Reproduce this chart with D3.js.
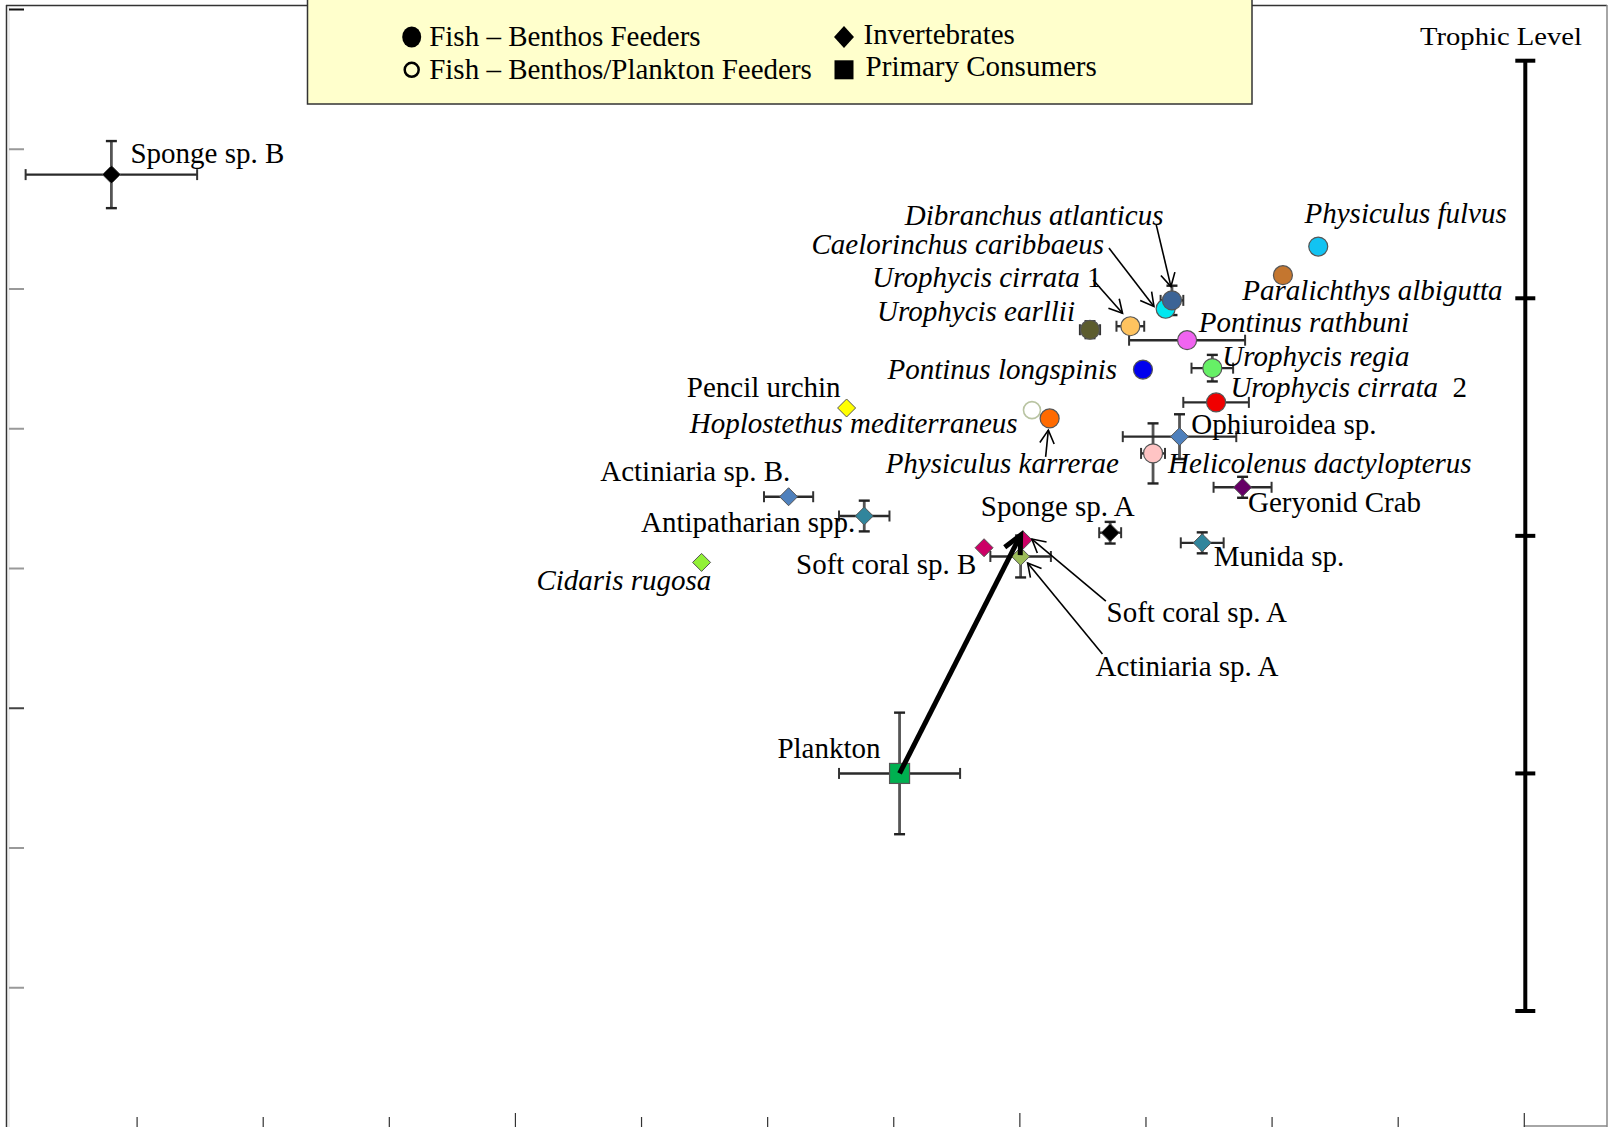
<!DOCTYPE html>
<html><head><meta charset="utf-8">
<script src="https://cdn.jsdelivr.net/npm/d3@7"></script>
<style>
html,body{margin:0;padding:0;background:#fff;}
svg{display:block;}
text{font-family:"Liberation Serif","Times New Roman",serif;fill:#000;}
</style></head><body><svg id="chart" width="1610" height="1127"></svg>
<script>
// ---------------- data ----------------
const species = ["Sponge sp. B","Caelorinchus caribbaeus","Dibranchus atlanticus","Urophycis cirrata 1","Urophycis earllii",
  "Pontinus rathbuni","Physiculus fulvus","Paralichthys albigutta","Urophycis regia","Pontinus longspinis",
  "Urophycis cirrata 2","Hoplostethus mediterraneus","Physiculus karrerae","Pencil urchin","Helicolenus dactylopterus",
  "Ophiuroidea sp.","Geryonid Crab","Actiniaria sp. B.","Antipatharian spp.","Sponge sp. A",
  "Munida sp.","Cidaris rugosa","Soft coral sp. B","Actiniaria sp. A","Soft coral sp. A","Plankton"];
const groups = ["inv","fishB","fishB","fishB","fishB",
  "fishB","fishB","fishB","fishB","fishB",
  "fishB","fishBP","fishB","inv","fishB",
  "inv","inv","inv","inv","inv",
  "inv","inv","inv","inv","inv","prim"];
const d13C = [-24.20,-15.84,-15.79,-16.12,-16.44,
  -15.67,-14.63,-14.91,-15.47,-16.02,
  -15.44,-16.90,-16.76,-18.37,-15.94,
  -15.73,-15.23,-18.83,-18.23,-16.28,
  -15.55,-19.52,-17.28,-16.99,-16.97,-17.95];
const d15N = [13.63,11.71,11.83,11.46,11.41,
  11.26,12.60,12.19,10.86,10.84,
  10.37,10.26,10.14,10.29,9.64,
  9.88,9.155,9.02,8.744,8.505,
  8.36,8.08,8.29,8.165,8.40,5.06];
const sdC = [0.68,0,0.09,0.11,0.08,
  0.46,0,0,0.165,0,
  0.26,0,0,0,0.095,
  0.45,0.23,0.195,0.20,0.087,
  0.17,0,0,0.24,0,0.48];
const sdN = [0.48,0,0.21,0,0.12,
  0,0,0,0.19,0,
  0,0,0,0,0.43,
  0.32,0.15,0,0.22,0.155,
  0.15,0,0,0.30,0,0.87];
const xTickValues = [-24,-23,-22,-21,-20,-19,-18,-17,-16,-15,-14,-13];
const yTickValues = [2,4,6,8,10,12,14,16];
const trophicLevels = [1.66,5.06,8.46,11.86,15.26];
const trophicLabel = "Trophic Level";
const webArrowFrom = [-17.95,5.06];
const webArrowTo = [-16.99,8.47];
const legendNames = ["Fish \u2013 Benthos Feeders","Fish \u2013 Benthos/Plankton Feeders","Invertebrates","Primary Consumers"];
const legendGroups = ["fishB","fishBP","inv","prim"];
const italicNames = new Set(["Caelorinchus caribbaeus","Dibranchus atlanticus","Urophycis cirrata 1","Urophycis earllii",
  "Pontinus rathbuni","Physiculus fulvus","Paralichthys albigutta","Urophycis regia","Pontinus longspinis",
  "Urophycis cirrata 2","Hoplostethus mediterraneus","Physiculus karrerae","Helicolenus dactylopterus","Cidaris rugosa"]);

// ---------------- styles ----------------
const fills = ["#000000","#00E8F0","#3C6496","#FFC35F","#5C5C2E",
  "#F064F0","#12C3F2","#C4762F","#66F066","#0000EE",
  "#F00000","#FFFFFF","#FF6A00","#FFFF00","#FFC4C4",
  "#4F81BD","#660066","#4F81BD","#31859C","#000000",
  "#31859C","#92F036","#CC0066","#9BBB59","#CC0066","#00B050"];
// label placement relative to the marker (pixels)
const labelLayout = {
  "Sponge sp. B":[ "start",19,-11.5],
  "Caelorinchus caribbaeus":["end",-61.7,-55],
  "Dibranchus atlanticus":["end",-8.5,-75.5],
  "Urophycis cirrata 1":["end",-28.8,-39],
  "Urophycis earllii":["end",-15,-9],
  "Pontinus rathbuni":["start",11.6,-8],
  "Physiculus fulvus":["start",-13.7,-24],
  "Paralichthys albigutta":["start",-40.6,24.3],
  "Urophycis regia":["start",10,-2],
  "Pontinus longspinis":["end",-25.8,9.5],
  "Urophycis cirrata 2":["start",14.3,-5],
  "Hoplostethus mediterraneus":["end",-14.4,22.7],
  "Physiculus karrerae":["end",69.3,54.4],
  "Pencil urchin":["end",-6,-11],
  "Helicolenus dactylopterus":["start",15,19.5],
  "Ophiuroidea sp.":["start",11.7,-3],
  "Geryonid Crab":["start",5.4,25],
  "Actiniaria sp. B.":["end",1.7,-16],
  "Antipatharian spp.":["end",-9,15.7],
  "Sponge sp. A":["start",-129.4,-17],
  "Munida sp.":["start",11.6,23],
  "Cidaris rugosa":["end",9.7,28],
  "Soft coral sp. B":["end",-7.6,26],
  "Actiniaria sp. A":["start",75,119.5],
  "Soft coral sp. A":["start",83.4,81.5],
  "Plankton":["end",-19,-15.5]
};
// leader arrows: [tailDx, tailDy, tipDx, tipDy] relative to marker
const leaders = {
  "Dibranchus atlanticus":[-15.7,-75.5,-1,-13.8],
  "Caelorinchus caribbaeus":[-56.7,-60.7,-11.7,-2.3],
  "Urophycis cirrata 1":[-37.2,-46.2,-7.8,-12.9],
  "Physiculus karrerae":[-4,38.4,-1.3,11.7],
  "Soft coral sp. A":[82.7,61,8.7,-1],
  "Actiniaria sp. A":[81.8,97.5,7,6.5]
};

// ---------------- chart ----------------
const svg = d3.select("#chart");
const W = 1610, H = 1127;
const x = d3.scaleLinear().domain([-24,-13]).range([136.6,1523.8]);
const y = d3.scaleLinear().domain([0,16]).range([1127,9]);

// frame
svg.append("line").attr("x1",6.5).attr("x2",6.5).attr("y1",5).attr("y2",H).attr("stroke","#333").attr("stroke-width",1.5);
svg.append("line").attr("x1",9).attr("x2",9).attr("y1",7).attr("y2",H).attr("stroke","#eee").attr("stroke-width",2);
svg.append("line").attr("x1",6).attr("x2",1607).attr("y1",5.5).attr("y2",5.5).attr("stroke","#333").attr("stroke-width",1.5);
svg.append("line").attr("x1",1607).attr("x2",1607).attr("y1",5).attr("y2",H).attr("stroke","#888").attr("stroke-width",1.5);
svg.append("line").attr("x1",x(-13)).attr("x2",1607).attr("y1",1126).attr("y2",1126).attr("stroke","#888").attr("stroke-width",1.5);

// axes (ticks only, no labels)
const yAxis = d3.axisRight(y).tickValues(yTickValues).tickSize(15).tickFormat("");
const gy = svg.append("g").attr("transform","translate(9,0)").call(yAxis);
gy.select(".domain").remove();
gy.selectAll(".tick line").attr("stroke",d=>d===16?"#111":(d===6?"#444":"#999")).attr("stroke-width",2);

const xAxis = d3.axisTop(x).tickValues(xTickValues).tickSize(10).tickFormat("");
const gx = svg.append("g").attr("transform",`translate(0,${H})`).call(xAxis);
gx.select(".domain").remove();
gx.selectAll(".tick line").attr("stroke","#333").attr("stroke-width",1.2)
  .attr("y2",d=>((d+21)%4===0)?-14:-10);

// trophic level bar
const tlx = x(-13)+1.5;
svg.append("line").attr("x1",tlx).attr("x2",tlx).attr("y1",y(d3.max(trophicLevels))).attr("y2",y(d3.min(trophicLevels)))
  .attr("stroke","#000").attr("stroke-width",4);
svg.selectAll(".tl").data(trophicLevels).enter().append("line")
  .attr("x1",tlx-10).attr("x2",tlx+10).attr("y1",d=>y(d)).attr("y2",d=>y(d))
  .attr("stroke","#000").attr("stroke-width",4);
svg.append("text").attr("x",1420).attr("y",45).attr("font-size",25)
  .attr("textLength",162).attr("lengthAdjust","spacingAndGlyphs").text(trophicLabel);

// data rows
const rows = species.map((s,i)=>({name:s,group:groups[i],cx:x(d13C[i]),cy:y(d15N[i]),
  sx:sdC[i],sy:sdN[i],fill:fills[i],c:d13C[i],n:d15N[i]}));

// error bars
const cap = 5.5;
const eb = svg.append("g");
rows.forEach(r=>{
  if(r.sx>0){
    const x1=x(r.c-r.sx), x2=x(r.c+r.sx);
    eb.append("line").attr("x1",x1).attr("x2",x2).attr("y1",r.cy).attr("y2",r.cy).attr("stroke","#2a2a2a").attr("stroke-width",2.4);
    [x1,x2].forEach(xx=>eb.append("line").attr("x1",xx).attr("x2",xx).attr("y1",r.cy-cap).attr("y2",r.cy+cap).attr("stroke","#333").attr("stroke-width",2));
  }
  if(r.sy>0){
    const y1=y(r.n+r.sy), y2=y(r.n-r.sy);
    eb.append("line").attr("x1",r.cx).attr("x2",r.cx).attr("y1",y1).attr("y2",y2).attr("stroke","#555").attr("stroke-width",2.8);
    [y1,y2].forEach(yy=>eb.append("line").attr("x1",r.cx-cap).attr("x2",r.cx+cap).attr("y1",yy).attr("y2",yy).attr("stroke","#222").attr("stroke-width",2.4));
  }
});

// markers
function drawMarker(g,group,cx,cy,fill){
  if(group==="fishB"){
    g.append("circle").attr("cx",cx).attr("cy",cy).attr("r",9.5).attr("fill",fill).attr("stroke","#555").attr("stroke-width",1.2);
  } else if(group==="fishBP"){
    g.append("circle").attr("cx",cx).attr("cy",cy).attr("r",8.5).attr("fill",fill).attr("stroke","#B9C4A2").attr("stroke-width",1.6);
  } else if(group==="inv"){
    const h=9;
    g.append("path").attr("d",`M${cx},${cy-h}L${cx+h},${cy}L${cx},${cy+h}L${cx-h},${cy}Z`).attr("fill",fill).attr("stroke","#555").attr("stroke-width",1);
  } else {
    const h=10;
    g.append("rect").attr("x",cx-h).attr("y",cy-h).attr("width",2*h).attr("height",2*h).attr("fill",fill).attr("stroke","#555").attr("stroke-width",1.2);
  }
}
const mk = svg.append("g");
rows.forEach(r=>drawMarker(mk,r.group,r.cx,r.cy,r.fill));

// arrows
function arrow(g,x1,y1,x2,y2,w,len,ang){
  g.append("line").attr("x1",x1).attr("y1",y1).attr("x2",x2).attr("y2",y2).attr("stroke","#000").attr("stroke-width",w);
  const a=Math.atan2(y1-y2,x1-x2);
  const p1=[x2+len*Math.cos(a+ang),y2+len*Math.sin(a+ang)], p2=[x2+len*Math.cos(a-ang),y2+len*Math.sin(a-ang)];
  g.append("path").attr("d",`M${p1[0]},${p1[1]}L${x2},${y2}L${p2[0]},${p2[1]}`).attr("fill","none").attr("stroke","#000").attr("stroke-width",w).attr("stroke-linejoin","miter");
}
const ag = svg.append("g");
arrow(ag,x(webArrowFrom[0]),y(webArrowFrom[1]),x(webArrowTo[0]),y(webArrowTo[1]),5,20,0.45);
rows.forEach(r=>{
  const L=leaders[r.name]; if(!L) return;
  arrow(ag,r.cx+L[0],r.cy+L[1],r.cx+L[2],r.cy+L[3],1.6,15,0.5);
});

// labels
const lg = svg.append("g");
rows.forEach(r=>{
  const L=labelLayout[r.name];
  const t=lg.append("text").attr("x",r.cx+L[1]).attr("y",r.cy+L[2]).attr("text-anchor",L[0]).attr("font-size",29);
  const ital = italicNames.has(r.name);
  const m = r.name.match(/^(.*) ([12])$/);
  if(m && ital){
    t.append("tspan").attr("font-style","italic").text(m[1]);
    t.append("tspan").text(m[2]==="2"?"\u00a0 2":" 1");
  } else {
    t.attr("font-style",ital?"italic":"normal").text(r.name);
  }
});

// legend
const leg = svg.append("g");
leg.append("rect").attr("x",307.5).attr("y",-3).attr("width",944.5).attr("height",107).attr("fill","#FFFFCC").attr("stroke","#333").attr("stroke-width",1.5);
const legPos = [[411.7,37,429.2,46],[411.7,69.8,429.2,79],[844,37,863.5,43.5],[844,69.8,865.6,76]];
legendNames.forEach((nm,i)=>{
  const p=legPos[i], g=legendGroups[i];
  if(g==="fishB") leg.append("ellipse").attr("cx",p[0]).attr("cy",p[1]).attr("rx",9.5).attr("ry",10.5).attr("fill","#000");
  else if(g==="fishBP") leg.append("circle").attr("cx",p[0]).attr("cy",p[1]).attr("r",7).attr("fill","none").attr("stroke","#000").attr("stroke-width",2.5);
  else if(g==="inv") leg.append("path").attr("d",`M${p[0]},${p[1]-11}L${p[0]+10},${p[1]}L${p[0]},${p[1]+11}L${p[0]-10},${p[1]}Z`).attr("fill","#000");
  else leg.append("rect").attr("x",p[0]-9.5).attr("y",p[1]-9.5).attr("width",19).attr("height",19).attr("fill","#000");
  leg.append("text").attr("x",p[2]).attr("y",p[3]).attr("font-size",29).text(nm);
});
</script></body></html>
